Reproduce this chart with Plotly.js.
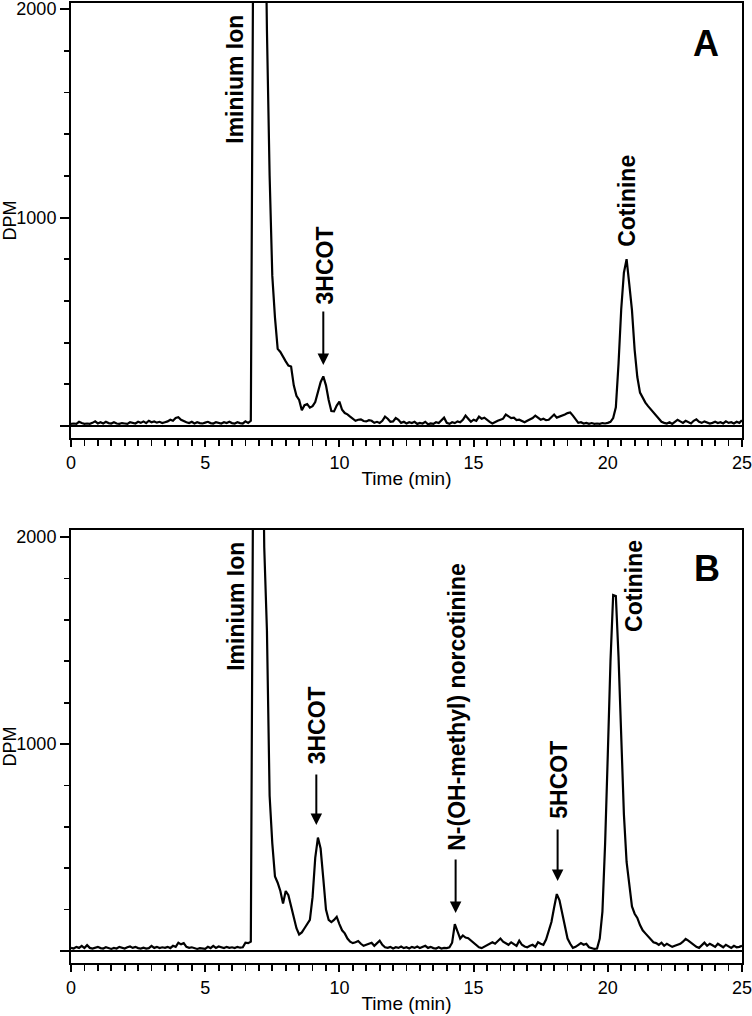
<!DOCTYPE html>
<html>
<head>
<meta charset="utf-8">
<script src="https://cdn.plot.ly/plotly-3.0.1.min.js"></script>
<style>html,body{margin:0;padding:0;background:#fff;}#chart{width:752px;height:1016px;}</style>
</head>
<body>
<div id="chart"></div>
<script>
// Retention time (min)
const time = [
0.0,0.1,0.2,0.3,0.4,0.5,0.6,0.7,0.8,0.9,
1.0,1.1,1.2,1.3,1.4,1.5,1.6,1.7,1.8,1.9,
2.0,2.1,2.2,2.3,2.4,2.5,2.6,2.7,2.8,2.9,
3.0,3.1,3.2,3.3,3.4,3.5,3.6,3.7,3.8,3.9,
4.0,4.1,4.2,4.3,4.4,4.5,4.6,4.7,4.8,4.9,
5.0,5.1,5.2,5.3,5.4,5.5,5.6,5.7,5.8,5.9,
6.0,6.1,6.2,6.3,6.4,6.5,6.6,6.7,6.8,6.9,
7.0,7.1,7.2,7.3,7.4,7.5,7.6,7.7,7.8,7.9,
8.0,8.1,8.2,8.3,8.4,8.5,8.6,8.7,8.8,8.9,
9.0,9.1,9.2,9.3,9.4,9.5,9.6,9.7,9.8,9.9,
10.0,10.1,10.2,10.3,10.4,10.5,10.6,10.7,10.8,10.9,
11.0,11.1,11.2,11.3,11.4,11.5,11.6,11.7,11.8,11.9,
12.0,12.1,12.2,12.3,12.4,12.5,12.6,12.7,12.8,12.9,
13.0,13.1,13.2,13.3,13.4,13.5,13.6,13.7,13.8,13.9,
14.0,14.1,14.2,14.3,14.4,14.5,14.6,14.7,14.8,14.9,
15.0,15.1,15.2,15.3,15.4,15.5,15.6,15.7,15.8,15.9,
16.0,16.1,16.2,16.3,16.4,16.5,16.6,16.7,16.8,16.9,
17.0,17.1,17.2,17.3,17.4,17.5,17.6,17.7,17.8,17.9,
18.0,18.1,18.2,18.3,18.4,18.5,18.6,18.7,18.8,18.9,
19.0,19.1,19.2,19.3,19.4,19.5,19.6,19.7,19.8,19.9,
20.0,20.1,20.2,20.3,20.4,20.5,20.6,20.7,20.8,20.9,
21.0,21.1,21.2,21.3,21.4,21.5,21.6,21.7,21.8,21.9,
22.0,22.1,22.2,22.3,22.4,22.5,22.6,22.7,22.8,22.9,
23.0,23.1,23.2,23.3,23.4,23.5,23.6,23.7,23.8,23.9,
24.0,24.1,24.2,24.3,24.4,24.5,24.6,24.7,24.8,24.9,
25.0];

// Panel A radioactivity (DPM)
const dpmA = [
10,12,10,20,14,10,12,10,15,22,
12,18,12,20,14,12,18,12,10,14,
12,10,18,14,12,20,15,22,14,25,
18,22,16,20,14,18,22,30,25,38,
42,30,22,18,14,20,12,18,14,12,
16,20,14,12,18,14,12,18,14,20,
14,12,18,14,12,22,15,25,2600,3500,
3800,3500,2900,1900,1200,720,520,370,355,330,
310,290,285,195,145,125,75,100,105,88,
95,115,160,210,238,195,125,72,70,98,
117,78,62,56,45,35,25,30,32,24,
22,28,25,15,20,14,25,45,35,20,
22,38,30,15,20,12,18,14,20,10,
15,12,20,8,12,10,18,14,25,40,
15,10,18,14,22,18,30,50,35,20,
30,25,45,35,40,28,20,12,20,25,
30,35,55,45,38,40,28,30,22,18,
25,30,38,50,40,30,35,28,30,45,
55,40,45,48,55,62,65,50,30,15,
18,12,15,10,14,10,12,10,14,12,
15,20,38,90,300,560,735,800,680,556,
365,235,160,135,112,95,80,62,50,32,
20,15,12,18,10,20,30,22,15,25,
18,12,25,32,20,15,22,18,12,15,
20,14,18,12,22,15,18,12,20,15,
28];

// Panel B radioactivity (DPM)
const dpmB = [
15,12,20,15,25,14,28,15,12,18,
20,14,12,18,14,10,15,12,20,15,
12,18,22,15,20,14,12,16,12,14,
25,15,20,14,18,15,20,14,25,20,
40,32,38,20,15,18,12,10,14,12,
10,20,14,25,15,22,18,14,20,15,
18,14,20,16,18,40,38,45,2700,3800,
4200,3000,1950,1550,750,520,360,330,290,230,
290,270,220,160,110,80,90,110,130,150,
260,450,548,495,350,200,150,140,150,165,
130,100,85,60,45,38,42,48,35,25,
30,35,40,25,40,50,30,18,15,20,
12,18,15,22,14,18,12,20,15,22,
14,18,25,15,20,14,12,18,12,15,
14,18,40,130,95,60,75,65,62,50,
40,30,18,14,22,28,35,42,35,50,
60,45,38,30,42,35,25,50,30,22,
18,25,30,20,42,35,30,55,92,140,
210,275,245,185,110,60,35,15,20,30,
38,30,35,18,15,10,12,60,190,520,
950,1400,1720,1715,1420,1010,660,430,310,215,
180,160,125,100,85,70,55,42,38,30,
40,25,35,28,20,25,30,35,45,58,
50,40,30,20,15,30,40,25,35,28,
20,35,25,18,30,22,15,25,18,20,
25];

// Axis ticks
const xTickVals = [0, 5, 10, 15, 20, 25];
const xTickText = ['0', '5', '10', '15', '20', '25'];
const yTickVals = [0, 1000, 2000];
const yTickText = ['', '1000', '2000'];

// Peak labels (text, time, DPM level where the rotated label starts)
const labelsA = ['Iminium Ion', '3HCOT', 'Cotinine'];
const labelsAx = [6.12, 9.48, 20.71];
const labelsAy = [1348, 580, 854];
const labelsB = ['Iminium Ion', '3HCOT', 'N-(OH-methyl) norcotinine', '5HCOT', 'Cotinine'];
const labelsBx = [6.12, 9.18, 14.37, 18.17, 20.97];
const labelsBy = [1348, 899, 478, 633, 1536];

// Arrows (time, tail DPM, tip DPM)
const arrowsAx = [9.40];
const arrowsAtail = [556];
const arrowsAtip = [293];
const arrowsBx = [9.14, 14.33, 18.13];
const arrowsBtail = [860, 449, 594];
const arrowsBtip = [609, 184, 338];

const panelLetters = ['A', 'B'];

const FONT = 'Liberation Sans, Arial, Helvetica, sans-serif';

const traces = [
  {x: time, y: dpmA, type: 'scatter', mode: 'lines', xaxis: 'x', yaxis: 'y',
   line: {color: '#000', width: 2.2}, hoverinfo: 'skip', showlegend: false},
  {x: time, y: dpmB, type: 'scatter', mode: 'lines', xaxis: 'x2', yaxis: 'y2',
   line: {color: '#000', width: 2.2}, hoverinfo: 'skip', showlegend: false}
];

function xAxis(anchor) {
  return {
    anchor: anchor, domain: [0, 1], range: [0, 25],
    tickmode: 'array', tickvals: xTickVals, ticktext: xTickText,
    ticks: 'outside', ticklen: 7, tickwidth: 2, tickcolor: '#000',
    minor: {tick0: 0, dtick: 0.5, ticks: 'outside', ticklen: 6, tickwidth: 1.8, tickcolor: '#000', showgrid: false},
    showline: true, linewidth: 2, linecolor: '#000', mirror: true,
    showgrid: false, zeroline: false, ticklabeloverflow: 'allow',
    tickfont: {family: FONT, size: 18, color: '#000'},
    title: {text: 'Time (min)', font: {family: FONT, size: 19, color: '#000'}, standoff: 0}
  };
}
function yAxis(anchor, domain, range) {
  return {
    anchor: anchor, domain: domain, range: range,
    tickmode: 'array', tickvals: yTickVals, ticktext: yTickText,
    ticks: 'outside', ticklen: 9, tickwidth: 2, tickcolor: '#000',
    minor: {tick0: 0, dtick: 200, ticks: 'outside', ticklen: 5, tickwidth: 1.8, tickcolor: '#000', showgrid: false},
    showline: true, linewidth: 2, linecolor: '#000', mirror: true,
    showgrid: false, zeroline: true, zerolinecolor: '#000', zerolinewidth: 2.2,
    ticklabeloverflow: 'allow',
    tickfont: {family: FONT, size: 18, color: '#000'},
    title: {text: 'DPM', font: {family: FONT, size: 18, color: '#000'}, standoff: 2}
  };
}

const annotations = [];
function addLabels(texts, xs, ys, xref, yref) {
  texts.forEach(function (t, i) {
    annotations.push({
      text: '<b>' + t + '</b>', x: xs[i], y: ys[i], xref: xref, yref: yref,
      textangle: -90, showarrow: false, xanchor: 'center', yanchor: 'bottom',
      borderpad: 0, font: {family: FONT, size: 23, color: '#000'}
    });
  });
}
function addArrows(xs, tails, tips, xref, yref) {
  xs.forEach(function (xv, i) {
    annotations.push({
      text: '', x: xv, y: tips[i], ax: xv, ay: tails[i], xref: xref, yref: yref,
      axref: xref, ayref: yref, showarrow: true, arrowhead: 2, arrowsize: 1.15,
      arrowwidth: 2, arrowcolor: '#000', standoff: 0, startstandoff: 0
    });
  });
}
addLabels(labelsA, labelsAx, labelsAy, 'x', 'y');
addLabels(labelsB, labelsBx, labelsBy, 'x2', 'y2');
addArrows(arrowsAx, arrowsAtail, arrowsAtip, 'x', 'y');
addArrows(arrowsBx, arrowsBtail, arrowsBtip, 'x2', 'y2');
annotations.push({text: '<b>' + panelLetters[0] + '</b>', x: 23.66, y: 1837, xref: 'x', yref: 'y',
  showarrow: false, xanchor: 'center', yanchor: 'middle', font: {family: FONT, size: 36, color: '#000'}});
annotations.push({text: '<b>' + panelLetters[1] + '</b>', x: 23.7, y: 1850, xref: 'x2', yref: 'y2',
  showarrow: false, xanchor: 'center', yanchor: 'middle', font: {family: FONT, size: 36, color: '#000'}});

const layout = {
  width: 752, height: 1016,
  margin: {l: 71, r: 10, t: 3, b: 53},
  paper_bgcolor: '#fff', plot_bgcolor: '#fff',
  font: {family: FONT, color: '#000'},
  showlegend: false,
  xaxis: xAxis('y'),
  yaxis: yAxis('x', [0.5469, 1], [-57.5, 2029]),
  xaxis2: xAxis('y2'),
  yaxis2: yAxis('x2', [0, 0.451], [-58, 2034]),
  annotations: annotations
};

Plotly.newPlot('chart', traces, layout, {staticPlot: true, displayModeBar: false});
</script>
</body>
</html>
